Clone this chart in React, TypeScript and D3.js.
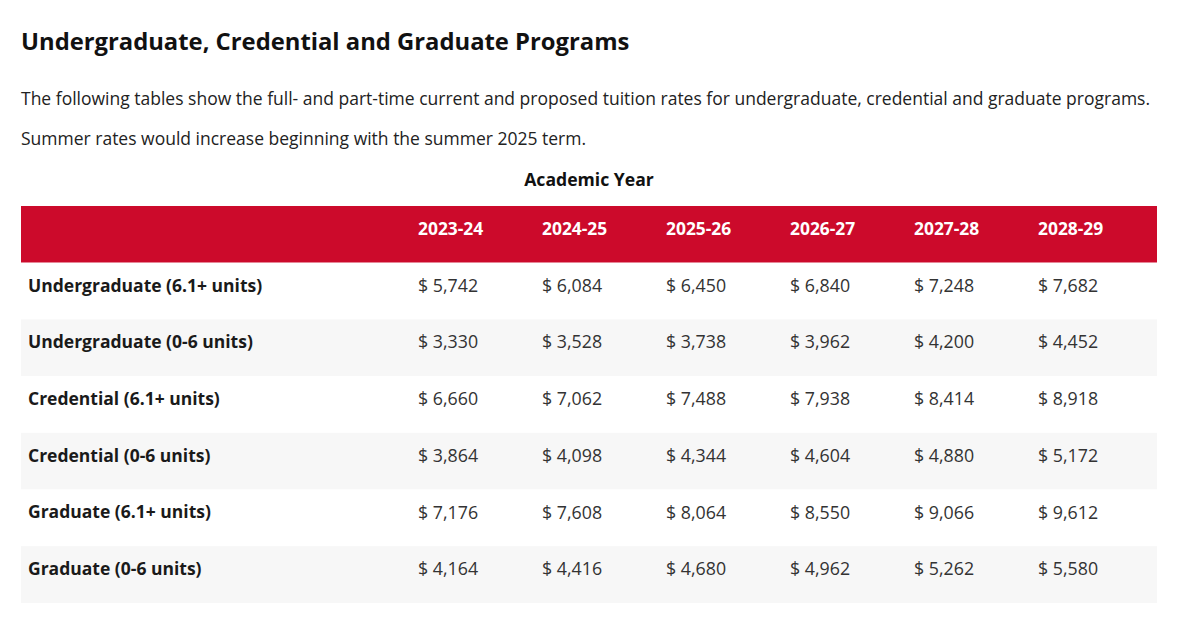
import React from "react";
import * as d3 from "d3";

const title = "Undergraduate, Credential and Graduate Programs";
const introLines = [
  "The following tables show the full- and part-time current and proposed tuition rates for undergraduate, credential and graduate programs.",
  "Summer rates would increase beginning with the summer 2025 term.",
];
const tableCaption = "Academic Year";
const years = ["2023-24", "2024-25", "2025-26", "2026-27", "2027-28", "2028-29"];
const programs = [
  "Undergraduate (6.1+ units)",
  "Undergraduate (0-6 units)",
  "Credential (6.1+ units)",
  "Credential (0-6 units)",
  "Graduate (6.1+ units)",
  "Graduate (0-6 units)",
];
const undergradFull = [5742, 6084, 6450, 6840, 7248, 7682];
const undergradPart = [3330, 3528, 3738, 3962, 4200, 4452];
const credentialFull = [6660, 7062, 7488, 7938, 8414, 8918];
const credentialPart = [3864, 4098, 4344, 4604, 4880, 5172];
const graduateFull = [7176, 7608, 8064, 8550, 9066, 9612];
const graduatePart = [4164, 4416, 4680, 4962, 5262, 5580];
const rows = [undergradFull, undergradPart, credentialFull, credentialPart, graduateFull, graduatePart];

const W = 1183;
const H = 623;
const FONT = "'Open Sans', 'Noto Sans', sans-serif";

export default function App() {
  const left = 21;
  const right = 1157;
  const headerTop = 206;
  const rowH = 56.7;
  const textShift = -5.5;
  const y = d3
    .scaleBand<string>()
    .domain(["header", ...programs])
    .range([headerTop, headerTop + rowH * (programs.length + 1)])
    .paddingInner(0)
    .paddingOuter(0);
  const x = d3.scalePoint<string>().domain(years).range([418, 418 + 124 * (years.length - 1)]);
  const fmt = d3.format(",");

  return (
    <svg
      width={W}
      height={H}
      style={{ position: "absolute", left: 0, top: 0, background: "#fff" }}
      fontFamily={FONT}
    >
      <text x={21} y={50} fontSize={23.8} fontWeight={700} fill="#111">
        {title}
      </text>
      {introLines.map((t, i) => (
        <text key={i} x={21} y={105 + i * 40} fontSize={17.5} fill="#222">
          {t}
        </text>
      ))}
      <text x={(left + right) / 2} y={186} fontSize={17.6} fontWeight={700} fill="#111" textAnchor="middle">
        {tableCaption}
      </text>
      <rect x={left} y={y("header")} width={right - left} height={y.bandwidth()} fill="#CC0A2B" />
      {years.map((yr) => (
        <text
          key={yr}
          x={x(yr)}
          y={(y("header") as number) + y.bandwidth() / 2 + textShift}
          dy="0.35em"
          fontSize={17.4}
          fontWeight={700}
          fill="#fff"
        >
          {yr}
        </text>
      ))}
      {programs.map((p, i) => {
        const top = y(p) as number;
        const mid = top + y.bandwidth() / 2 + textShift;
        return (
          <g key={p}>
            <rect x={left} y={top} width={right - left} height={y.bandwidth()} fill={i % 2 === 1 ? "#F7F7F7" : "#FFFFFF"} />
            <text x={28} y={mid} dy="0.35em" fontSize={17.5} fontWeight={700} fill="#1a1a1a">
              {p}
            </text>
            {rows[i].map((v, j) => (
              <text key={j} x={x(years[j])} y={mid} dy="0.35em" fontSize={17.8} fill="#333">
                {"$ " + fmt(v)}
              </text>
            ))}
          </g>
        );
      })}
    </svg>
  );
}
